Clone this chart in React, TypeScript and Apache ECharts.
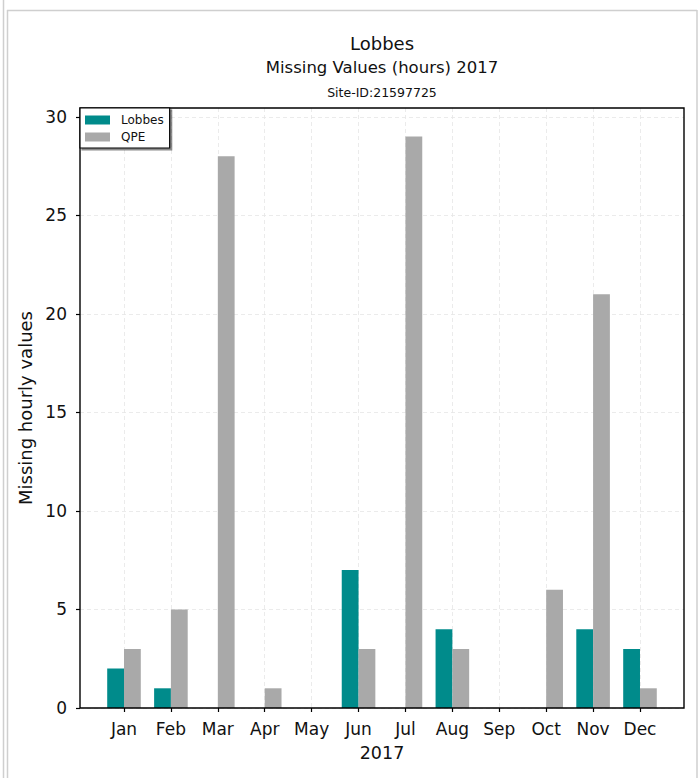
import React, { useEffect, useRef } from "react";
import * as echarts from "echarts";

const months = ["Jan", "Feb", "Mar", "Apr", "May", "Jun", "Jul", "Aug", "Sep", "Oct", "Nov", "Dec"];
const lobbes = [2, 1, 0, 0, 0, 7, 0, 4, 0, 0, 4, 3];
const qpe = [3, 5, 28, 1, 0, 3, 29, 3, 0, 6, 21, 1];
const yTicks = [0, 5, 10, 15, 20, 25, 30];
const titleLines = ["Lobbes", "Missing Values (hours) 2017", "Site-ID:21597725"];
const xName = "2017";
const yName = "Missing hourly values";

const FONT = "DejaVu Sans";
const TXT = "#111";
const YMAX = 30.45;

export default function App() {
  const ref = useRef<HTMLDivElement>(null);
  useEffect(() => {
    document.body.style.margin = "0";
    const chart = echarts.init(ref.current!, null, { renderer: "svg" });
    const frameLine = { stroke: "#cfcfcf", lineWidth: 1.5 };
    const option: any = {
      animation: false,
      backgroundColor: "#fff",
      textStyle: { fontFamily: FONT },
      grid: [
        { left: 80, top: 108, width: 604, height: 600, show: true, borderColor: "#000", borderWidth: 1.4, backgroundColor: "transparent", z: 5 },
        { left: 100.55, top: 108, width: 562.9, height: 600 },
        { left: 124, top: 108, width: 516, height: 600 },
      ],
      xAxis: [
        { gridIndex: 0, type: "value", min: 0, max: 1, show: false },
        { gridIndex: 1, type: "category", data: months, boundaryGap: true, show: false },
        {
          gridIndex: 2,
          type: "category",
          data: months,
          boundaryGap: false,
          axisLine: { show: false },
          axisTick: { show: true, inside: false, length: 4, lineStyle: { color: "#000", width: 1.2 } },
          axisLabel: { color: TXT, fontSize: 17, fontFamily: FONT, margin: 12, interval: 0 },
          splitLine: { show: true, lineStyle: { color: "#e6e6e6", type: [4, 3], width: 0.8 } },
          name: xName,
          nameLocation: "middle",
          nameGap: 36,
          nameTextStyle: { color: TXT, fontSize: 17.5, fontFamily: FONT },
        },
      ],
      yAxis: [
        {
          gridIndex: 0,
          type: "value",
          min: 0,
          max: YMAX,
          interval: 5,
          axisLine: { show: false },
          axisTick: { show: true, length: 4, lineStyle: { color: "#000", width: 1.2 }, customValues: yTicks },
          axisLabel: { color: TXT, fontSize: 17, fontFamily: FONT, margin: 13, customValues: yTicks },
          splitLine: { show: true, lineStyle: { color: "#e6e6e6", type: [4, 3], width: 0.8 } },
          name: yName,
          nameLocation: "middle",
          nameGap: 41,
          nameTextStyle: { color: TXT, fontSize: 18, fontFamily: FONT },
        },
        { gridIndex: 1, type: "value", min: 0, max: YMAX, show: false },
        { gridIndex: 2, type: "value", min: 0, max: YMAX, show: false },
      ],
      legend: {
        orient: "vertical",
        left: 80,
        top: 108,
        padding: [6, 6, 5, 5],
        itemGap: 5,
        itemWidth: 25,
        itemHeight: 9,
        icon: "rect",
        backgroundColor: "#fff",
        borderColor: "#000",
        borderWidth: 1.2,
        shadowColor: "rgba(0,0,0,0.45)",
        shadowOffsetX: 2,
        shadowOffsetY: 2,
        shadowBlur: 0,
        textStyle: { color: TXT, fontSize: 12, fontFamily: FONT, padding: [0, 0, 0, 6] },
        data: ["Lobbes", "QPE"],
        z: 10,
      },
      series: [
        {
          name: "Lobbes",
          type: "bar",
          xAxisIndex: 1,
          yAxisIndex: 1,
          data: lobbes,
          barWidth: 16.8,
          barGap: "0%",
          itemStyle: { color: "#008B8B" },
        },
        {
          name: "QPE",
          type: "bar",
          xAxisIndex: 1,
          yAxisIndex: 1,
          data: qpe,
          barWidth: 16.8,
          barGap: "0%",
          itemStyle: { color: "#A9A9A9" },
        },
      ],
      graphic: [
        { type: "line", shape: { x1: 3.5, y1: 0, x2: 3.5, y2: 778 }, style: frameLine, silent: true },
        { type: "line", shape: { x1: 7.5, y1: 10, x2: 7.5, y2: 778 }, style: frameLine, silent: true },
        { type: "line", shape: { x1: 7, y1: 10.5, x2: 697, y2: 10.5 }, style: frameLine, silent: true },
        { type: "line", shape: { x1: 697, y1: 10, x2: 697, y2: 778 }, style: frameLine, silent: true },
        { type: "text", x: 382, y: 43, style: { text: titleLines[0], fill: TXT, fontSize: 18, fontFamily: FONT, align: "center", verticalAlign: "middle" } },
        { type: "text", x: 382, y: 67, style: { text: titleLines[1], fill: TXT, fontSize: 16.5, fontFamily: FONT, align: "center", verticalAlign: "middle" } },
        { type: "text", x: 382, y: 92, style: { text: titleLines[2], fill: TXT, fontSize: 12.5, fontFamily: FONT, align: "center", verticalAlign: "middle" } },
      ],
    };
    chart.setOption(option);
    return () => chart.dispose();
  }, []);
  return <div ref={ref} style={{ width: 700, height: 778 }} />;
}
